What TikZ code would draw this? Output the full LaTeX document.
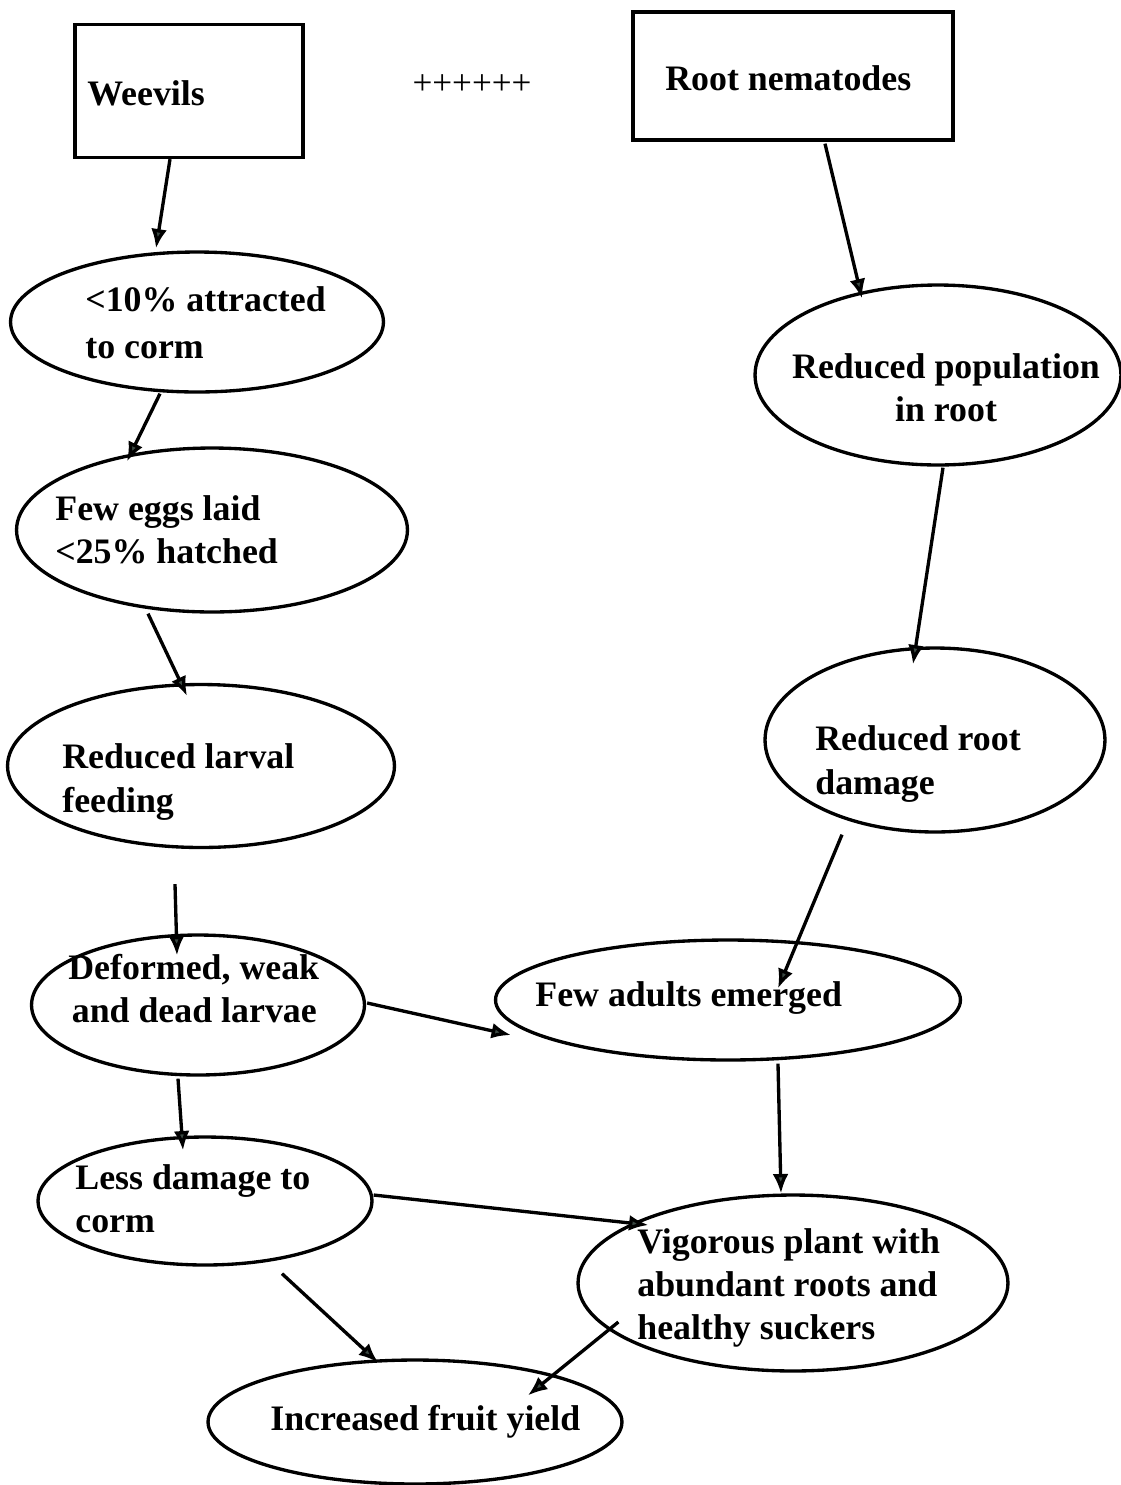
\documentclass[tikz,border=0pt]{standalone}
\usepackage{fontspec}
\setmainfont{Liberation Serif}
\usetikzlibrary{shapes.geometric,arrows.meta}
\definecolor{tipgray}{HTML}{3A4842}

\begin{document}
\begin{tikzpicture}[x=0.02cm,y=-0.02cm,
    box/.style={draw,rectangle,line width=1.9pt,inner sep=0pt},
    oval/.style={draw,ellipse,line width=1.9pt,inner sep=0pt},
    txt/.style={font=\fontsize{20.4}{24.5}\selectfont\bfseries,align=left,anchor=west,inner sep=0pt},
    arr/.style={line width=1.9pt,-{Latex[length=11pt,width=9pt,fill=tipgray]}}]
\useasboundingbox (0,0) rectangle (1121,1485);
%----the two pests------------------------------
\node[box,minimum width=4.56cm,minimum height=2.66cm] (weevils) at (189,91) {};
\node[box,minimum width=6.4cm,minimum height=2.56cm] (nematodes) at (793,76) {};
\node[txt] (tweevils) at (87,93) {Weevils};
\node[txt] (tnematodes) at (665,78) {Root nematodes};
\node[font=\fontsize{20}{24}\selectfont,inner sep=0pt] (plus) at (472,85) {++++++};
%----left column: weevils-----------------------
\node[oval,minimum width=7.46cm,minimum height=2.8cm] (attract) at (197,322) {};
\node[oval,minimum width=7.82cm,minimum height=3.28cm] (eggs) at (212,530) {};
\node[oval,minimum width=7.74cm,minimum height=3.26cm] (feeding) at (201,766) {};
\node[oval,minimum width=6.66cm,minimum height=2.8cm] (larvae) at (198,1005) {};
\node[oval,minimum width=6.68cm,minimum height=2.56cm] (corm) at (205,1201) {};
\node[txt] (tattract) at (85,323) {<10\% attracted\\[2pt]to corm};
\node[txt] (teggs) at (55,530) {Few eggs laid\\<25\% hatched};
\node[txt] (tfeeding) at (62,782) {Reduced larval\\feeding};
\node[txt] (tlarvae) at (68,989) {Deformed, weak\\\hspace{2pt}and dead larvae};
\node[txt] (tcorm) at (75,1199) {Less damage to\\corm};
%----right column: nematodes--------------------
\node[oval,minimum width=7.32cm,minimum height=3.6cm] (population) at (938,375) {};
\node[oval,minimum width=6.8cm,minimum height=3.68cm] (rootdmg) at (935,740) {};
\node[txt,align=center,anchor=center] (tpopulation) at (946,388) {Reduced population\\in root};
\node[txt] (trootdmg) at (815,764) {Reduced root\\damage};
%----joint outcome------------------------------
\node[oval,minimum width=9.3cm,minimum height=2.4cm] (adults) at (728,1000) {};
\node[oval,minimum width=8.6cm,minimum height=3.52cm] (vigour) at (793,1283) {};
\node[oval,minimum width=8.28cm,minimum height=2.48cm] (yield) at (415,1422) {};
\node[txt] (tadults) at (535,998) {Few adults emerged};
\node[txt] (tvigour) at (637,1288) {Vigorous plant with\\abundant roots and\\healthy suckers};
\node[txt] (tyield) at (270,1422) {Increased fruit yield};
%----arrows-------------------------------------
\draw[arr] ([shift={(-19,0)}]weevils.south) -- ([shift={(-41,-2)}]attract.north);
\draw[arr] ([shift={(-37,0)}]attract.south) -- ([shift={(-85,15)}]eggs.north);
\draw[arr] ([shift={(-64,0)}]eggs.south) -- ([shift={(-14,13)}]feeding.north);
\draw[arr] ([shift={(-26,35)}]feeding.south) -- ([shift={(-21,22)}]larvae.north);
\draw[arr] ([shift={(1,-2)}]larvae.east) -- ([shift={(17,35)}]adults.west);
\draw[arr] ([shift={(-20,2)}]larvae.south) -- ([shift={(-22,15)}]corm.north);
\draw[arr] ([shift={(32,2)}]nematodes.south) -- ([shift={(-76,15)}]population.north);
\draw[arr] ([shift={(5,1)}]population.south) -- ([shift={(-22,18)}]rootdmg.north);
\draw[arr] ([shift={(-93,1)}]rootdmg.south) -- ([shift={(50,50)}]adults.north);
\draw[arr] ([shift={(50,2)}]adults.south) -- ([shift={(-12,0)}]vigour.north);
\draw[arr] ([shift={(0,-6)}]corm.east) -- ([shift={(72,-58)}]vigour.west);
\draw[arr] ([shift={(77,7)}]corm.south) -- ([shift={(-37,4)}]yield.north);
\draw[arr] ([shift={(42,39)}]vigour.west) -- ([shift={(113,37)}]yield.north);
\end{tikzpicture}
\end{document}
